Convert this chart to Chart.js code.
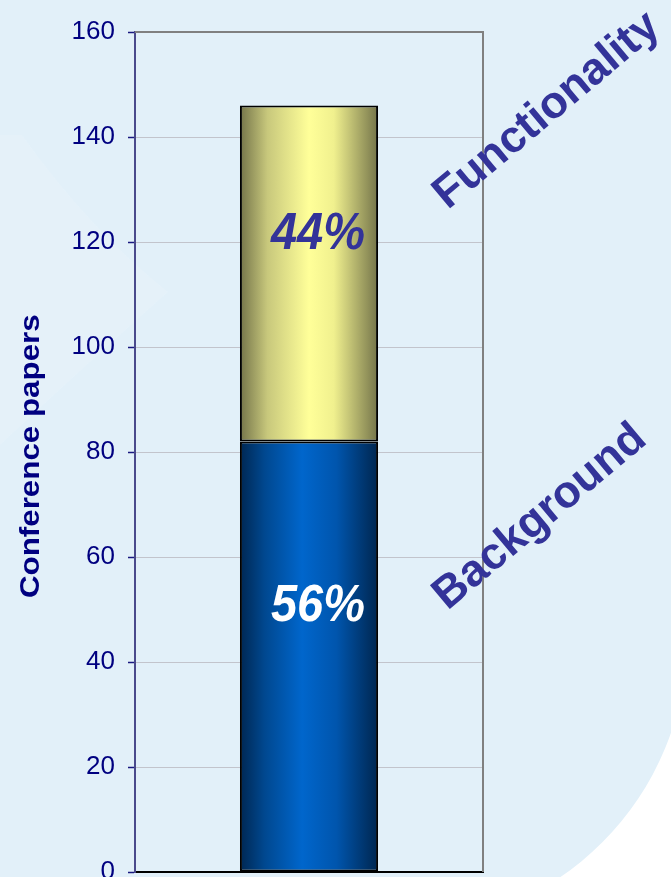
<!DOCTYPE html>
<html>
<head>
<meta charset="utf-8">
<title>Conference papers</title>
<script src="https://cdn.jsdelivr.net/npm/chart.js@4/dist/chart.umd.min.js"></script>
<style>
  html, body { margin: 0; padding: 0; background: #E2F0F9; }
  body { width: 671px; height: 877px; overflow: hidden; }
  canvas { display: block; }
</style>
</head>
<body>
<canvas id="chart" width="671" height="877"></canvas>
<script>
// Paper counts per category, stacked in one column
const categories = [''];
const seriesNames = ['Background', 'Functionality'];
const backgroundPapers = [82];
const functionalityPapers = [64];

// Value axis
const axisMin = 0;
const axisMax = 160;
const axisStep = 20;

const FONT = '"Liberation Sans", Arial, Helvetica, sans-serif';
const BAR_PCT = 0.397;

// Cylinder-like horizontal shading across each bar
function barShading(stops) {
  return (c) => {
    const chart = c.chart;
    const xs = chart.scales && chart.scales.x;
    if (!xs || !chart.chartArea || c.dataIndex === undefined) return stops[2][1];
    const center = xs.getPixelForValue(c.dataIndex);
    const half = (xs.width / Math.max(1, xs.ticks.length)) * BAR_PCT / 2;
    const g = chart.ctx.createLinearGradient(center - half, 0, center + half, 0);
    stops.forEach(([o, col]) => g.addColorStop(o, col));
    return g;
  };
}

const blueShade = barShading([
  [0, '#002752'], [0.18, '#004890'], [0.45, '#0066CC'], [0.7, '#0055AD'], [1, '#00264F']
]);
const yellowShade = barShading([
  [0, '#74744A'], [0.2, '#C8C87C'], [0.5, '#FFFF99'], [0.68, '#F0F08E'], [1, '#74744A']
]);

// Slide backdrop: pale blue field, white corner arc, faint light sweep on the left
const backdrop = {
  id: 'backdrop',
  beforeDraw(chart) {
    const { ctx, width, height } = chart;
    ctx.save();
    ctx.fillStyle = '#E2F0F9';
    ctx.fillRect(0, 0, width, height);

    ctx.fillStyle = 'rgba(255,255,255,0.10)';
    ctx.beginPath();
    ctx.moveTo(0, 135);
    ctx.lineTo(22, 135);
    ctx.quadraticCurveTo(90, 230, 168, 292);
    ctx.quadraticCurveTo(80, 370, 0, 445);
    ctx.closePath();
    ctx.fill();

    ctx.beginPath();
    ctx.rect(0, 0, width, height);
    ctx.arc(398, 638, 289, 0, Math.PI * 2, true);
    ctx.clip('evenodd');
    ctx.fillStyle = '#FFFFFF';
    ctx.fillRect(520, 690, width - 520, height - 690);
    ctx.restore();
  }
};

// Top and right edges of the plot frame
const frame = {
  id: 'frame',
  beforeDatasetsDraw(chart) {
    const { ctx, chartArea: a } = chart;
    ctx.save();
    ctx.strokeStyle = '#808080';
    ctx.lineWidth = 2;
    ctx.beginPath();
    ctx.moveTo(a.left, a.top);
    ctx.lineTo(a.right, a.top);
    ctx.lineTo(a.right, a.bottom);
    ctx.stroke();
    ctx.restore();
  }
};

// Share of the column written inside each segment
const shareLabels = {
  id: 'shareLabels',
  afterDatasetsDraw(chart) {
    const { ctx } = chart;
    const ys = chart.scales.y;
    const sets = chart.data.datasets;
    const colors = ['#FFFFFF', '#333399'];
    categories.forEach((_, i) => {
      const total = sets.reduce((s, d) => s + d.data[i], 0);
      let base = 0;
      sets.forEach((d, di) => {
        const v = d.data[i];
        const el = chart.getDatasetMeta(di).data[i];
        const y = ys.getPixelForValue(base + v * 0.615);
        ctx.save();
        ctx.translate(el.x + 9, y);
        ctx.scale(1, 1.1);
        ctx.font = 'italic bold 47px ' + FONT;
        ctx.fillStyle = colors[di];
        ctx.textAlign = 'center';
        ctx.textBaseline = 'middle';
        ctx.fillText(Math.round(v / total * 100) + '%', 0, 0);
        ctx.restore();
        base += v;
      });
    });
  }
};

// Series names set diagonally beside the column
const seriesTags = {
  id: 'seriesTags',
  afterDraw(chart, args, opts) {
    const { ctx, chartArea: a } = chart;
    const ys = chart.scales.y;
    seriesNames.forEach((name, i) => {
      const p = opts.anchors[i];
      ctx.save();
      ctx.translate(a.right + p.dx, ys.getPixelForValue(p.value));
      ctx.rotate(-40 * Math.PI / 180);
      ctx.font = 'bold 45px ' + FONT;
      ctx.fillStyle = '#333399';
      ctx.textAlign = 'center';
      ctx.textBaseline = 'middle';
      ctx.fillText(name, 0, 0);
      ctx.restore();
    });
  }
};

// Value-axis caption
const axisCaption = {
  id: 'axisCaption',
  afterDraw(chart) {
    const { ctx, chartArea: a } = chart;
    ctx.save();
    ctx.translate(32, a.top + a.height * 0.505);
    ctx.rotate(-Math.PI / 2);
    ctx.scale(1.16, 1);
    ctx.font = 'bold 27px ' + FONT;
    ctx.fillStyle = '#000080';
    ctx.textAlign = 'center';
    ctx.textBaseline = 'middle';
    ctx.fillText('Conference papers', 0, 0);
    ctx.restore();
  }
};

new Chart(document.getElementById('chart'), {
  type: 'bar',
  data: {
    labels: categories,
    datasets: [
      {
        label: seriesNames[0],
        data: backgroundPapers,
        backgroundColor: blueShade,
        borderColor: '#000000',
        borderWidth: 2,
        borderSkipped: false
      },
      {
        label: seriesNames[1],
        data: functionalityPapers,
        backgroundColor: yellowShade,
        borderColor: '#000000',
        borderWidth: 2,
        borderSkipped: false
      }
    ]
  },
  options: {
    responsive: false,
    animation: false,
    devicePixelRatio: 1,
    barPercentage: BAR_PCT,
    categoryPercentage: 1,
    layout: { padding: { top: 32, right: 188, bottom: 5, left: 0 } },
    plugins: {
      legend: { display: false },
      tooltip: { enabled: false },
      seriesTags: { anchors: [{ dx: 57, value: 67.6 }, { dx: 64, value: 145 }] }
    },
    scales: {
      x: {
        stacked: true,
        ticks: { display: false },
        grid: { display: false },
        border: { display: true, color: '#000000', width: 2 },
        afterFit(s) { s.height = 0; s.paddingLeft = 0; s.paddingRight = 0; }
      },
      y: {
        stacked: true,
        min: axisMin,
        max: axisMax,
        ticks: {
          stepSize: axisStep,
          color: '#000080',
          font: { family: FONT, size: 26 },
          padding: 13
        },
        grid: {
          color: '#C2C4CC',
          lineWidth: 1,
          tickLength: 7,
          tickColor: '#1A1A80',
          tickWidth: 1.5
        },
        border: { display: true, color: '#4A4A8C', width: 2 },
        afterFit(s) { s.width = 135; s.paddingTop = 0; s.paddingBottom = 0; }
      }
    }
  },
  plugins: [backdrop, frame, shareLabels, seriesTags, axisCaption]
});
</script>
</body>
</html>
